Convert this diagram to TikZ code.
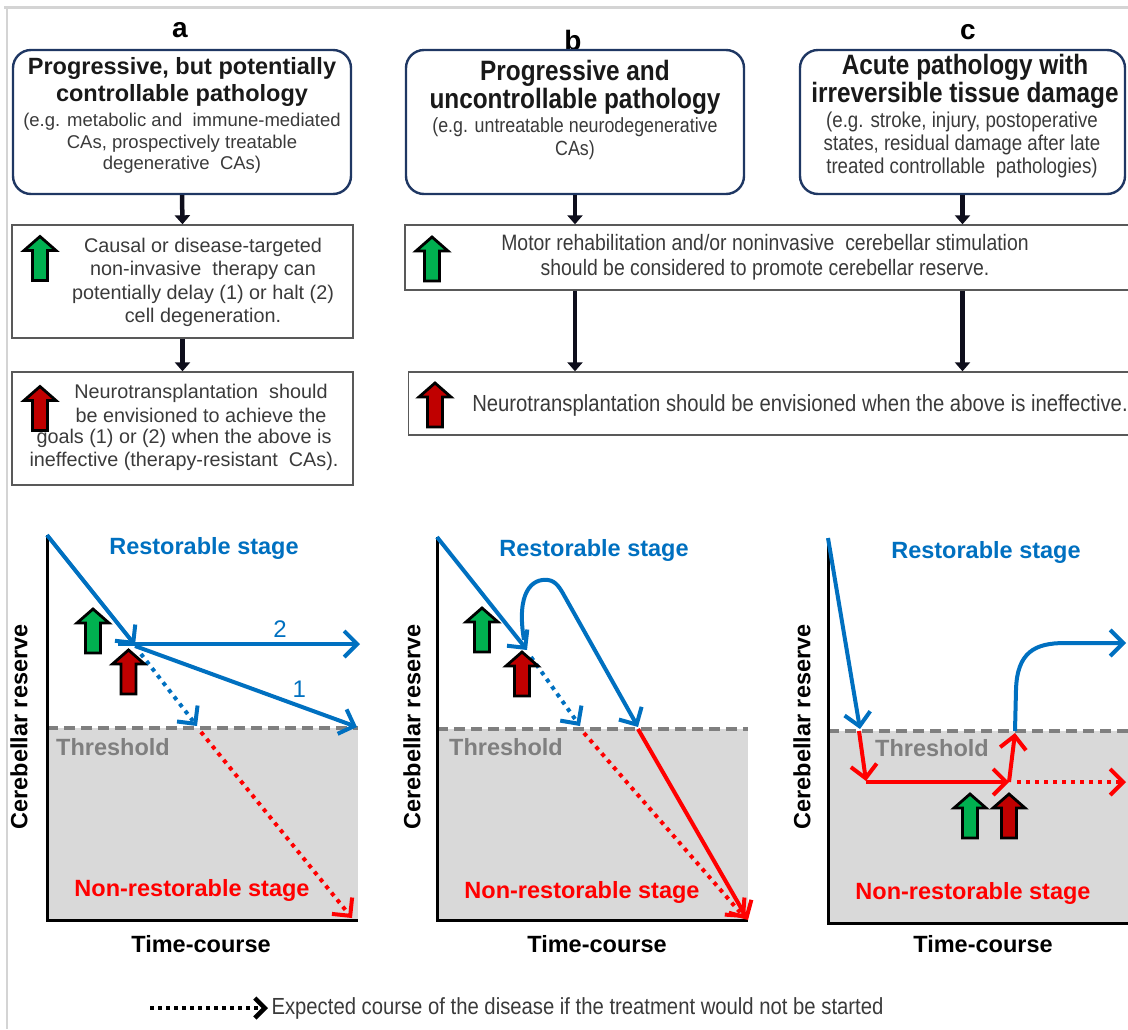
\documentclass[tikz,border=0pt]{standalone}
\usepackage{fontspec}
\setmainfont{Liberation Sans}
\newfontfamily\narrowfont{Liberation Sans}[FakeStretch=0.87]
\usetikzlibrary{arrows.meta}

\definecolor{boxblue}{HTML}{1F3763}
\definecolor{linegrey}{HTML}{595959}
\definecolor{textgrey}{HTML}{3A3A3A}
\definecolor{curveblue}{HTML}{0070C0}
\definecolor{curvered}{HTML}{FF0000}
\definecolor{zonegrey}{HTML}{D9D9D9}
\definecolor{threshgrey}{HTML}{7F7F7F}
\definecolor{icongreen}{HTML}{00B050}
\definecolor{iconred}{HTML}{C00000}
\definecolor{framegrey}{HTML}{D4D4D4}
\definecolor{flowblack}{HTML}{0E0E1C}

\tikzset{
	pics/upicon/.style={code={
		\draw[line width=2.8pt, fill=#1, line join=miter] (-7.5,22) -- (-7.5,-8) -- (-16,-8) -- (0,-22) -- (16,-8) -- (7.5,-8) -- (7.5,22) -- cycle;
	}},
	pathbox/.style={draw=boxblue, line width=2.4pt, rounded corners=18pt, minimum height=144pt},
	infobox/.style={draw=linegrey, line width=1.4pt},
	flow/.style={draw=flowblack, line width=4.5pt, -{Triangle[length=9pt,width=15pt]}},
	panel/.style={font=\fontsize{28}{30}\selectfont\bfseries},
	ptitle/.style={align=center, text=black!90, font=\fontsize{23.5}{27}\selectfont\bfseries},
	ntitle/.style={align=center, text=black!90, font=\narrowfont\fontsize{28}{28}\selectfont\bfseries},
	pnote/.style={align=center, text=textgrey, font=\fontsize{18.5}{21.5}\selectfont},
	nnote/.style={align=center, text=textgrey, font=\narrowfont\fontsize{20.5}{22.5}\selectfont},
	bodyA/.style={align=center, text=textgrey, font=\fontsize{19.8}{23.5}\selectfont},
	bodyBC/.style={align=center, text=textgrey, font=\narrowfont\fontsize{22.3}{25}\selectfont},
	stagelbl/.style={font=\fontsize{23.5}{26}\selectfont\bfseries},
	course/.style={line width=4pt, -{Straight Barb[length=13pt,width=26pt]}},
	dotcourse/.style={course, dash pattern=on 4pt off 5pt},
	thresh/.style={draw=threshgrey, line width=3.5pt, dash pattern=on 11pt off 6pt},
	axes/.style={line width=3pt, line join=miter}
}

\begin{document}
\begin{tikzpicture}[x=1pt, y=-1pt]
	\useasboundingbox (0,0) rectangle (1128,1029);
	\draw[framegrey, line width=3pt] (4,7) -- (1128,7);
	\draw[framegrey, line width=1.5pt] (7,9) -- (7,1029);

	% panel letters
	\node[panel] (la) at (180,30) {a};
	\node[panel] (lb) at (573,40) {b};
	\node[panel] (lc) at (968,32) {c};

	% pathology boxes
	\node[pathbox, minimum width=338pt] (boxA) at (182,122) {};
	\node[pathbox, minimum width=338pt] (boxB) at (575,122) {};
	\node[pathbox, minimum width=325pt] (boxC) at (962.5,122) {};
	\node[ptitle] (tA) at (182,81.5) {Progressive, but potentially\\controllable pathology};
	\node[pnote] (nA) at (182,143.5) {(e.g. metabolic and\ \ immune-mediated\\CAs, prospectively treatable\\degenerative\ \ CAs)};
	\node[ntitle] (tB) at (575,87) {Progressive and\\uncontrollable pathology};
	\node[nnote] (nB) at (575,138.5) {(e.g. untreatable neurodegenerative\\CAs)};
	\node[ntitle] (tC) at (965,81) {Acute pathology with\\irreversible tissue damage};
	\node[nnote, font=\narrowfont\fontsize{21.5}{23}\selectfont] (nC) at (962,145) {(e.g. stroke, injury, postoperative\\states, residual damage after late\\treated controllable\ \ pathologies)};

	% treatment boxes
	\node[infobox, minimum width=341pt, minimum height=113pt] (treatA) at (182.5,281.5) {};
	\node[infobox, minimum width=341pt, minimum height=113pt] (graftA) at (182.5,428.5) {};
	\node[infobox, minimum width=740pt, minimum height=65pt] (treatBC) at (775,257.5) {};
	\node[infobox, minimum width=737pt, minimum height=63pt] (graftBC) at (777,403.5) {};
	\pic at (40,258.5) {upicon=icongreen};
	\pic at (40,408.5) {upicon=iconred};
	\pic at (432,259) {upicon=icongreen};
	\pic at (435,405) {upicon=iconred};
	\node[bodyA] (txtA1) at (203,282.5) {Causal or disease-targeted\\non-invasive\ \ therapy can\\potentially delay (1) or halt (2)\\cell degeneration.};
	\node[bodyA] (txtA2) at (201,403.5) {Neurotransplantation\ \ should\\be envisioned to achieve the};
	\node[bodyA] (txtA3) at (184,450) {goals (1) or (2) when the above is\\ineffective (therapy-resistant\ \ CAs).};
	\node[bodyBC] (txtB1) at (765,257.5) {Motor rehabilitation and/or noninvasive\ \ cerebellar stimulation\\should be considered to promote cerebellar reserve.};
	\node[bodyBC, font=\narrowfont\fontsize{23.3}{25}\selectfont] (txtB2) at (800,405) {Neurotransplantation should be envisioned when the above is ineffective.};

	% connectors
	\draw[flow] (boxA.south) -- (treatA.north);
	\draw[flow] (treatA.south) -- (graftA.north);
	\draw[flow] (boxB.south) -- (boxB.south |- treatBC.north);
	\draw[flow] (boxC.south) -- (boxC.south |- treatBC.north);
	\draw[flow] (boxB.south |- treatBC.south) -- (boxB.south |- graftBC.north);
	\draw[flow] (boxC.south |- treatBC.south) -- (boxC.south |- graftBC.north);

	% graph a
	\fill[zonegrey] (47,728) rectangle (358,920);
	\draw[thresh] (47,728) -- (358,728);
	\draw[axes] (47,535) -- (47,920) -- (358,920);
	\draw[course, curveblue] (47,535) -- (135,645);
	\draw[course, curveblue] (118,644) -- (360,644) node[pos=0.67, above=1pt, font=\fontsize{24}{25}\selectfont] {2};
	\draw[course, curveblue] (135,646) -- (357,727) node[pos=0.74, above=3pt, font=\fontsize{24}{25}\selectfont] {1};
	\draw[dotcourse, curveblue] (141,654) -- (197,726);
	\draw[dotcourse, curvered] (201,732) -- (352,918);
	\pic at (93,631) {upicon=icongreen};
	\pic at (128.5,672) {upicon=iconred};
	\node[stagelbl, curveblue] (rsA) at (204,548) {Restorable stage};
	\node[stagelbl, threshgrey] (thA) at (113,747) {Threshold};
	\node[stagelbl, curvered] (nsA) at (192,890) {Non-restorable stage};
	\node[stagelbl, rotate=90] (yA) at (19,727) {Cerebellar reserve};
	\node[stagelbl] (xA) at (201,944) {Time-course};

	% graph b
	\fill[zonegrey] (437,729) rectangle (748,920);
	\draw[thresh] (437,729) -- (748,729);
	\draw[axes] (437,537) -- (437,920) -- (748,920);
	\draw[course, curveblue] (437,537) -- (527,650);
	\draw[course, curveblue] (524,640) .. controls (516,592) and (532,578) .. (548,580) .. controls (556,581) and (560,588) .. (565,597) -- (638,727);
	\draw[dotcourse, curveblue] (531,657) -- (580,726);
	\draw[dotcourse, curvered] (584,733) -- (745,918);
	\draw[course, curvered] (638,729) -- (748,920);
	\pic at (482,630) {upicon=icongreen};
	\pic at (522,674) {upicon=iconred};
	\node[stagelbl, curveblue] (rsB) at (594,550) {Restorable stage};
	\node[stagelbl, threshgrey] (thB) at (506,747) {Threshold};
	\node[stagelbl, curvered] (nsB) at (582,892) {Non-restorable stage};
	\node[stagelbl, rotate=90] (yB) at (412,727) {Cerebellar reserve};
	\node[stagelbl] (xB) at (597,944) {Time-course};

	% graph c
	\fill[zonegrey] (828,731) rectangle (1130,923);
	\draw[thresh] (828,731) -- (1130,731);
	\draw[axes] (828,538) -- (828,923) -- (1130,923);
	\draw[course, curveblue] (828,538) -- (860,729);
	\draw[course, curvered] (859,731) -- (866,781);
	\draw[course, curvered] (866,782) -- (1009,782);
	\draw[course, curvered] (1009,782) -- (1015,733);
	\draw[course, curveblue] (1015,731) -- (1016,690) .. controls (1017,652) and (1035,643) .. (1065,643) -- (1126,643);
	\draw[dotcourse, curvered] (1017,782) -- (1126,782);
	\pic at (970,816) {upicon=icongreen};
	\pic at (1009,816) {upicon=iconred};
	\node[stagelbl, curveblue] (rsC) at (986,552) {Restorable stage};
	\node[stagelbl, threshgrey] (thC) at (932,748) {Threshold};
	\node[stagelbl, curvered] (nsC) at (973,893) {Non-restorable stage};
	\node[stagelbl, rotate=90] (yC) at (802,727) {Cerebellar reserve};
	\node[stagelbl] (xC) at (983,944) {Time-course};

	% legend
	\coordinate (legS) at (150,1008);
	\node[anchor=west, text=textgrey, font=\narrowfont\fontsize{23.3}{25}\selectfont] (legT) at (268,1008) {Expected course of the disease if the treatment would not be started};
	\draw[line width=4pt, dash pattern=on 4pt off 4pt, -{Straight Barb[length=10pt,width=20pt,line width=4.5pt]}] (legS) -- (legT.west);
\end{tikzpicture}
\end{document}
